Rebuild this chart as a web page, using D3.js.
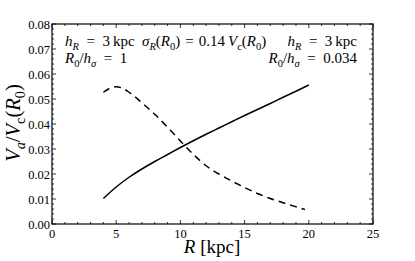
<!DOCTYPE html>
<html><head><meta charset="utf-8">
<script src="https://cdn.jsdelivr.net/npm/d3@7"></script>
<style>body{margin:0;background:#fff}svg{display:block}</style>
</head><body>
<svg id="c" width="415" height="261" font-family="Liberation Serif"></svg>
<script>
const solidR = [4,5,6,7,8,9,10,11,12,13,14,15,16,17,18,19,20];
const solidV = [0.0102,0.0148,0.0187,0.0220,0.0250,0.0278,0.0306,0.0333,0.0359,0.0384,0.0409,0.0434,0.0458,0.0482,0.0507,0.0531,0.0556];
const dashR = [4,4.5,5,5.5,6,7,8,9,10,11,12,13,14,15,16,17,18,19,19.7];
const dashV = [0.0527,0.0543,0.0549,0.0543,0.0527,0.0485,0.0439,0.0387,0.0332,0.0279,0.0233,0.0200,0.0172,0.0146,0.0122,0.0102,0.0085,0.0069,0.0058];
const xTicks = [0,5,10,15,20,25];
const yTicks = [0.00,0.01,0.02,0.03,0.04,0.05,0.06,0.07,0.08];

const svg = d3.select("#c");
const L=52, R=373, T=24, B=224;
const x = d3.scaleLinear().domain([0,25]).range([L,R]);
const y = d3.scaleLinear().domain([0,0.08]).range([B,T]);
const FF = "Liberation Serif";

svg.append("rect").attr("x",L).attr("y",T).attr("width",R-L).attr("height",B-T)
  .attr("fill","none").attr("stroke","#000").attr("stroke-width",1.2);

const xMinor = d3.range(0,25.01,1), yMinor = d3.range(0,0.0801,0.002);
const tk = svg.append("g").attr("stroke","#000").attr("stroke-width",0.8);
xMinor.forEach(v=>{
  const major = Math.abs(v/5-Math.round(v/5))<1e-6;
  const len = major?4:2;
  tk.append("line").attr("x1",x(v)).attr("x2",x(v)).attr("y1",B).attr("y2",B-len);
  tk.append("line").attr("x1",x(v)).attr("x2",x(v)).attr("y1",T).attr("y2",T+len);
});
yMinor.forEach(v=>{
  const major = Math.abs(v/0.01-Math.round(v/0.01))<1e-6;
  const len = major?4:2;
  tk.append("line").attr("y1",y(v)).attr("y2",y(v)).attr("x1",L).attr("x2",L+len);
  tk.append("line").attr("y1",y(v)).attr("y2",y(v)).attr("x1",R).attr("x2",R-len);
});

svg.append("g").selectAll("text").data(xTicks).join("text")
  .attr("x",d=>x(d)).attr("y",B+14).attr("text-anchor","middle")
  .attr("font-family",FF).attr("font-size",12.5).text(d=>d);
svg.append("g").selectAll("text").data(yTicks).join("text")
  .attr("x",L-2).attr("y",d=>y(d)+4.5).attr("text-anchor","end")
  .attr("font-family",FF).attr("font-size",12.5).text(d=>d.toFixed(2));

const line = d3.line().x(d=>x(d[0])).y(d=>y(d[1])).curve(d3.curveMonotoneX);
svg.append("path").datum(solidR.map((r,i)=>[r,solidV[i]])).attr("d",line)
  .attr("fill","none").attr("stroke","#000").attr("stroke-width",1.5);
svg.append("path").datum(dashR.map((r,i)=>[r,dashV[i]])).attr("d",line)
  .attr("fill","none").attr("stroke","#000").attr("stroke-width",1.5)
  .attr("stroke-dasharray","7,5");

function mtext(xp, yp, segs, size, anchor){
  const t = svg.append("text").attr("x",xp).attr("y",yp).attr("font-family",FF)
    .attr("font-size",size).attr("text-anchor",anchor||"start");
  let shifted = 0;
  segs.forEach(s=>{
    const sp = t.append("tspan").text(s.t);
    if(s.it) sp.attr("font-style","italic");
    const want = s.sub ? size*0.25 : 0;
    if(want!==shifted){ sp.attr("dy", want-shifted); shifted = want; }
    if(s.sub) sp.attr("font-size", size*0.7);
  });
  return t;
}
const fs = 15, E = "\u2002", E3 = "\u2004";
mtext(65,46,[{t:"h",it:1},{t:"R",it:1,sub:1},{t:E+"="+E+"3\u2009kpc"}],fs);
mtext(65,63,[{t:"R",it:1},{t:"0",sub:1},{t:"/"},{t:"h",it:1},{t:"σ",it:1,sub:1},{t:E+"="+E+"1"}],fs);
mtext(142,46,[{t:"σ",it:1},{t:"R",it:1,sub:1},{t:"("},{t:"R",it:1},{t:"0",sub:1},{t:")"+E3+"="+E3+"0.14\u2009"},{t:"V",it:1},{t:"c",sub:1},{t:"("},{t:"R",it:1},{t:"0",sub:1},{t:")"}],fs);
mtext(357,46,[{t:"h",it:1},{t:"R",it:1,sub:1},{t:E+"="+E+"3\u2009kpc"}],fs,"end");
mtext(357,63,[{t:"R",it:1},{t:"0",sub:1},{t:"/"},{t:"h",it:1},{t:"σ",it:1,sub:1},{t:E+"="+E+"0.034"}],fs,"end");

mtext(212,253,[{t:"R",it:1},{t:" [kpc]"}],19,"middle");
const yl = mtext(0,0,[{t:"V",it:1},{t:"a",it:1,sub:1},{t:"/"},{t:"V",it:1},{t:"c",sub:1},{t:"("},{t:"R",it:1},{t:"0",sub:1},{t:")"}],20.5,"middle");
yl.attr("transform","translate(20,123) rotate(-90)");
</script>
</body></html>
